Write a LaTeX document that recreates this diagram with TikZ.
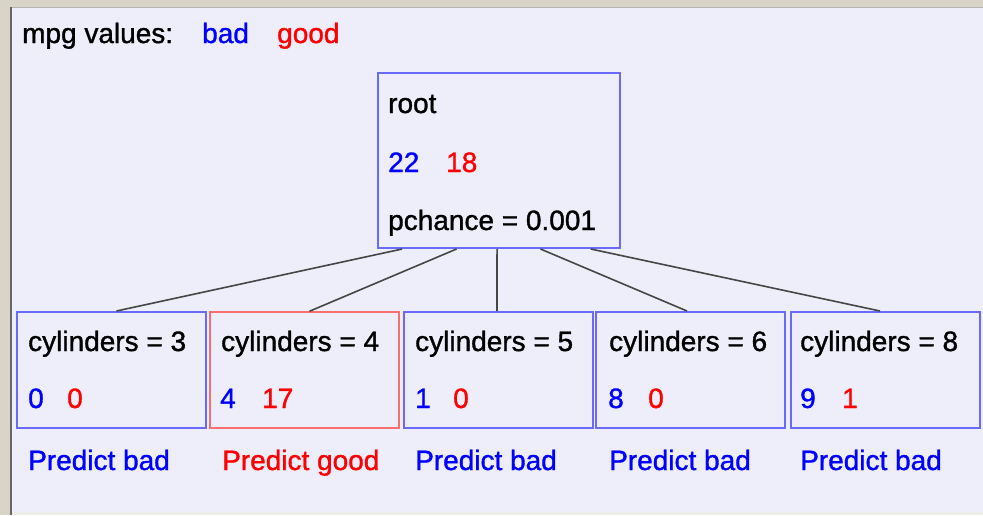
\documentclass[tikz,border=0pt]{standalone}
\usepackage{fontspec}
\newfontfamily\diagfont{Liberation Sans}[FakeBold=1.2]
\usetikzlibrary{calc}
\definecolor{outerbg}{RGB}{216,212,200}
\definecolor{panelbg}{RGB}{238,238,251}
\definecolor{boxblue}{RGB}{105,105,250}
\definecolor{boxred}{RGB}{250,110,110}
\definecolor{txtblue}{RGB}{0,0,255}
\definecolor{txtred}{RGB}{255,0,0}
\definecolor{edgegray}{RGB}{70,70,70}
\begin{document}
\begin{tikzpicture}[x=1pt,y=-1pt,
  font=\diagfont\fontsize{28}{33}\selectfont,
  bluebox/.style={draw=boxblue,line width=2pt,fill=panelbg,inner sep=0pt,rectangle},
  redbox/.style={draw=boxred,line width=1.5pt,fill=panelbg,inner sep=0pt,rectangle},
  childbox/.style={minimum width=189pt,minimum height=116pt},
  lbl/.style={anchor=base west,inner sep=0pt,text=black},
  bl/.style={lbl,text=txtblue},
  rd/.style={lbl,text=txtred},
  edge/.style={draw=edgegray,line width=1.6pt}]
\useasboundingbox (0,0) rectangle (983,515);
% background
\fill[outerbg] (0,0) rectangle (983,515);
\fill[panelbg] (12,7) rectangle (983,512);
\fill[white!60!outerbg] (12,512) rectangle (983,515);
\draw[gray!80!black,line width=2pt] (11,7) -- (11,515);
\draw[gray!60,line width=1pt] (12,7.5) -- (983,7.5);
% legend
\node[lbl] (leg) at (22,43) {mpg values:};
\node[bl] (legbad) at (202,43) {bad};
\node[rd] (leggood) at (277,43) {good};
% boxes
\node[bluebox,minimum width=242pt,minimum height=175pt] (root) at (499,160.5) {};
\node[bluebox,childbox] (c1) at (111.5,370) {};
\node[redbox,childbox] (c2) at (304.5,370) {};
\node[bluebox,childbox] (c3) at (498,370) {};
\node[bluebox,childbox] (c4) at (690,370) {};
\node[bluebox,childbox] (c5) at (885,370) {};
% connectors
\draw[edge] ($(root.south west)!0.103!(root.south east)$) -- ($(c1.north)+(5,0)$);
\draw[edge] ($(root.south west)!0.326!(root.south east)$) -- ($(c2.north)+(5,0)$);
\draw[edge] ($(root.south west)!0.492!(root.south east)$) -- ($(c3.north)+(-1,0)$);
\draw[edge] ($(root.south west)!0.67!(root.south east)$) -- ($(c4.north)+(-3,0)$);
\draw[edge] ($(root.south west)!0.876!(root.south east)$) -- ($(c5.north)+(-5,0)$);
% root text
\node[lbl] (rt1) at (388,113) {root};
\node[bl] (rt2) at (388,172) {22};
\node[rd] (rt3) at (446,172) {18};
\node[lbl] (rt4) at (388,230) {pchance = 0.001};
% child texts
\node[lbl] (t1) at (28,351) {cylinders = 3};
\node[bl] (n1a) at (28,408) {0};
\node[rd] (n1b) at (67,408) {0};
\node[bl] (p1) at (28,470) {Predict bad};
\node[lbl] (t2) at (221,351) {cylinders = 4};
\node[bl] (n2a) at (220,408) {4};
\node[rd] (n2b) at (262,408) {17};
\node[rd] (p2) at (222,470) {Predict good};
\node[lbl] (t3) at (415,351) {cylinders = 5};
\node[bl] (n3a) at (415,408) {1};
\node[rd] (n3b) at (453,408) {0};
\node[bl] (p3) at (415,470) {Predict bad};
\node[lbl] (t4) at (609,351) {cylinders = 6};
\node[bl] (n4a) at (608,408) {8};
\node[rd] (n4b) at (648,408) {0};
\node[bl] (p4) at (609,470) {Predict bad};
\node[lbl] (t5) at (800,351) {cylinders = 8};
\node[bl] (n5a) at (800,408) {9};
\node[rd] (n5b) at (842,408) {1};
\node[bl] (p5) at (800,470) {Predict bad};
\end{tikzpicture}
\end{document}
